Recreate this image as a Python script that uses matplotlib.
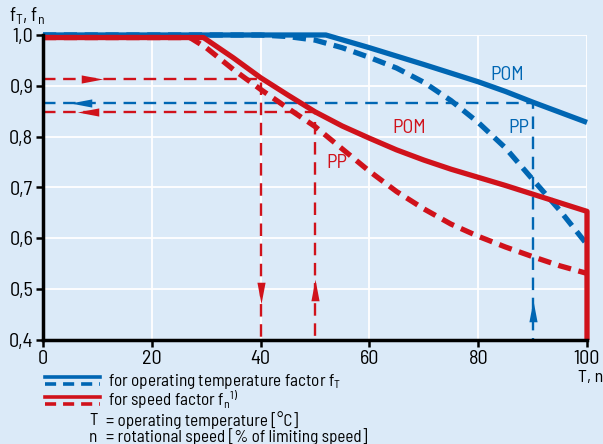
import matplotlib
matplotlib.use("Agg")
import matplotlib.pyplot as plt
from matplotlib import font_manager as fm
from matplotlib.lines import Line2D

cands = ['Barlow Semi Condensed', 'Barlow Condensed', 'Roboto Condensed', 'PT Sans Narrow',
         'Liberation Sans Narrow', 'Open Sans Condensed', 'Archivo Narrow', 'DejaVu Sans']
avail = {f.name for f in fm.fontManager.ttflist}
FAM = next(c for c in cands if c in avail)

plt.rcParams['font.family'] = [FAM, 'DejaVu Sans']
plt.rcParams['lines.scale_dashes'] = False
plt.rcParams['mathtext.fontset'] = 'custom'
plt.rcParams['mathtext.rm'] = FAM
plt.rcParams['mathtext.it'] = FAM

# ---- data ----
x_ticks = [0, 20, 40, 60, 80, 100]
x_tick_labels = ["0", "20", "40", "60", "80", "100"]
y_ticks = [0.4, 0.5, 0.6, 0.7, 0.8, 0.9, 1.0]
y_tick_labels = ["0,4", "0,5", "0,6", "0,7", "0,8", "0,9", "1,0"]

# operating temperature factor fT
pom_T_x = [0, 52, 60, 70, 80, 85, 90, 95, 100]
pom_T_y = [1.0, 1.0, 0.975, 0.942, 0.908, 0.889, 0.868, 0.848, 0.828]
pp_T_x = [0, 40, 45, 50, 55, 60, 65, 70, 75, 80, 85, 90, 95, 100]
pp_T_y = [1.0, 1.0, 0.997, 0.99, 0.975, 0.956, 0.935, 0.907, 0.871, 0.828, 0.778, 0.716, 0.655, 0.588]

# speed factor fn
pom_n_x = [0, 29.5, 35, 40, 45, 50, 55, 60, 65, 70, 75, 80, 85, 90, 95, 100, 100]
pom_n_y = [0.995, 0.995, 0.955, 0.916, 0.882, 0.849, 0.821, 0.797, 0.774, 0.754, 0.736, 0.72, 0.704, 0.687, 0.67, 0.653, 0.4]
pp_n_x = [0, 27, 30, 35, 40, 45, 50, 55, 60, 65, 70, 75, 80, 85, 90, 95, 100]
pp_n_y = [0.995, 0.995, 0.975, 0.932, 0.893, 0.856, 0.82, 0.776, 0.732, 0.692, 0.658, 0.628, 0.604, 0.583, 0.564, 0.546, 0.531]

# reading examples (x value, factor)
ex_red_1 = (40, 0.913)
ex_blue = (90, 0.867)
ex_red_2 = (50, 0.848)

BLUE = "#0066b3"
RED = "#d0121b"
BG = "#dbeaf8"

fig = plt.figure(figsize=(6.03, 4.44), dpi=100)
fig.patch.set_facecolor(BG)
ax = fig.add_axes([43/603, 1-340/444, (587-43)/603, (340-35)/444])
ax.set_facecolor(BG)
ax.set_xlim(0, 100)
ax.set_ylim(0.4, 1.0)

for t in x_ticks[1:]:
    ax.axvline(t, color="white", lw=1.3, zorder=0)
for t in y_ticks[1:]:
    ax.axhline(t, color="white", lw=1.3, zorder=0)

# reading example lines
thin_dash = (0, (9, 5.5))
lw_thin = 1.7
ax.plot([0, ex_red_1[0], ex_red_1[0]], [ex_red_1[1], ex_red_1[1], 0.4], color=RED, lw=lw_thin, ls=thin_dash, zorder=2)
ax.plot([0, ex_blue[0], ex_blue[0]], [ex_blue[1], ex_blue[1], 0.4], color=BLUE, lw=lw_thin, ls=thin_dash, zorder=2)
ax.plot([0, ex_red_2[0], ex_red_2[0]], [ex_red_2[1], ex_red_2[1], 0.4], color=RED, lw=lw_thin, ls=thin_dash, zorder=2)

# arrowheads
arrow_r = [(-1, -0.38), (1, 0), (-1, 0.38), (-1, -0.38)]
arrow_l = [(-x, y) for x, y in arrow_r]
arrow_u = [(y, x) for x, y in arrow_r]
arrow_d = [(y, -x) for x, y in arrow_r]
ms = 15.5
ax.plot([9.0], [ex_red_1[1]], marker=arrow_r, ms=ms, color=RED, mew=0, zorder=3)
ax.plot([7.0], [ex_blue[1]], marker=arrow_l, ms=ms, color=BLUE, mew=0, zorder=3)
ax.plot([8.3], [ex_red_2[1]], marker=arrow_l, ms=ms, color=RED, mew=0, zorder=3)
ax.plot([ex_red_1[0]], [0.493], marker=arrow_d, ms=ms, color=RED, mew=0, zorder=3)
ax.plot([ex_red_2[0]], [0.498], marker=arrow_u, ms=ms, color=RED, mew=0, zorder=3)
ax.plot([ex_blue[0]], [0.458], marker=arrow_u, ms=ms, color=BLUE, mew=0, zorder=3)

# curves
lw_thick = 3.8
thick_dash = (0, (9.5, 5.5))
ax.plot(pom_T_x, pom_T_y, color=BLUE, lw=lw_thick, zorder=4, clip_on=False, solid_capstyle='butt')
ax.plot(pp_T_x, pp_T_y, color=BLUE, lw=lw_thick, ls=thick_dash, zorder=4, clip_on=False)
ax.plot(pp_n_x, pp_n_y, color=RED, lw=lw_thick, ls=thick_dash, zorder=5, clip_on=False)
ax.plot(pom_n_x, pom_n_y, color=RED, lw=lw_thick, zorder=5, clip_on=False, solid_capstyle='butt')

# curve labels
ax.text(85.3, 0.921, "POM", color=BLUE, fontsize=14.5, ha="center", va="center")
ax.text(87.5, 0.817, "PP", color=BLUE, fontsize=14.5, ha="center", va="center")
ax.text(67.4, 0.817, "POM", color=RED, fontsize=14.5, ha="center", va="center")
ax.text(54.0, 0.748, "PP", color=RED, fontsize=14.5, ha="center", va="center")

# axes styling
for s in ["top", "right"]:
    ax.spines[s].set_visible(False)
for s in ["left", "bottom"]:
    ax.spines[s].set_linewidth(2.5)
    ax.spines[s].set_color("black")
    ax.spines[s].set_zorder(6)
ax.set_xticks(x_ticks)
ax.set_xticklabels(x_tick_labels)
ax.set_yticks(y_ticks)
ax.set_yticklabels(y_tick_labels)
ax.tick_params(direction="out", length=5, width=1.8, labelsize=14.5, colors="black", pad=2)

# axis titles
fig.text(9/603, 1-16/444, r"f$_\mathrm{T}$, f$_\mathrm{n}$", fontsize=14, ha="left", va="center")
fig.text(603/603, 1-377/444, "T, n", fontsize=13, ha="right", va="center")

# legend
def leg_line(y, color, ls):
    fig.add_artist(Line2D([45/603, 100/603], [1-y/444, 1-y/444], transform=fig.transFigure,
                          color=color, lw=2.6, ls=ls))
leg_line(377, BLUE, "-")
leg_line(384, BLUE, (0, (8, 5)))
leg_line(397, RED, "-")
leg_line(404, RED, (0, (8, 5)))
fs = 12.3
fig.text(108/603, 1-381/444, r"for operating temperature factor f$_\mathrm{T}$", fontsize=fs, va="center")
fig.text(108/603, 1-400/444, r"for speed factor f$_\mathrm{n}$$^{\mathrm{1)}}$", fontsize=fs, va="center")
fig.text(89/603, 1-420/444, "T", fontsize=fs, va="center")
fig.text(106/603, 1-420/444, "= operating temperature [°C]", fontsize=fs, va="center")
fig.text(89/603, 1-437/444, "n", fontsize=fs, va="center")
fig.text(106/603, 1-437/444, "= rotational speed [% of limiting speed]", fontsize=fs, va="center")

fig.savefig("out.png", dpi=100, facecolor=BG)
